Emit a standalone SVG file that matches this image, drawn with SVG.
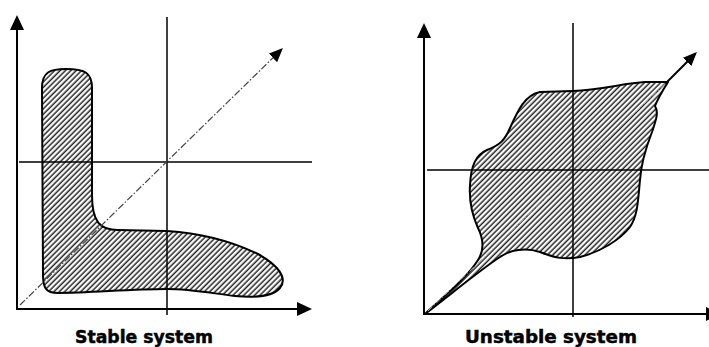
<svg xmlns="http://www.w3.org/2000/svg" width="709" height="347" viewBox="0 0 709 347">
  <style>
    .axis { stroke: #000; stroke-width: 2; fill: none; }
    .cross { stroke: #000; stroke-width: 1.5; fill: none; }
    .region { fill: url(#hatch); stroke: #000; stroke-width: 2; stroke-linejoin: round; }
    .diag { stroke: #444; stroke-width: 1.2; fill: none; stroke-dasharray: 7 2 1.5 2; }
    .diagfaint { stroke: #aaa; stroke-width: 1; fill: none; stroke-dasharray: 6 2 1.5 2; }
    .solid { stroke: #000; stroke-width: 2; fill: none; }
    .label { font-family: "DejaVu Sans", Verdana, sans-serif; font-weight: bold; font-size: 18px; fill: #000; stroke: #000; stroke-width: 0.5; text-anchor: middle; }
  </style>
  <defs>
    <pattern id="hatch" patternUnits="userSpaceOnUse" width="3.8" height="10" patternTransform="rotate(45)">
      <rect width="3.8" height="10" fill="#fff"/>
      <line x1="1.2" y1="0" x2="1.2" y2="10" stroke="#222" stroke-width="1.5"/>
    </pattern>
    <marker id="bigArrow" markerUnits="userSpaceOnUse" markerWidth="16" markerHeight="15" refX="13" refY="7" orient="auto">
      <path d="M0,0 L15,7 L0,14 Z" fill="#000"/>
    </marker>
    <marker id="smallArrow" markerUnits="userSpaceOnUse" markerWidth="15" markerHeight="13" refX="12" refY="6" orient="auto">
      <path d="M0,0 L14,6 L0,12 Z" fill="#000"/>
    </marker>
  </defs>
  <rect width="709" height="347" fill="#fff"/>

  <!-- Stable system -->
  <g id="stable-region">
    <path class="region" d="M 42,88 C 42,72 50,69 66,69 C 84,69 92,72 92,88 L 92,195 C 92,222 100,230 118,230 L 167,231 C 200,233 233,242 258,254 C 278,265 288,278 280,288 C 272,297 255,298 235,296 C 210,293 190,289 167,289 C 130,289 90,293 58,293 C 46,293 43,288 43,275 Z"/>
  </g>
  <g id="stable-connectors">
    <line class="cross" x1="167" y1="17" x2="167" y2="315"/>
    <line class="cross" x1="19" y1="162" x2="312" y2="162"/>
    <line class="diag" x1="20" y1="305" x2="281.5" y2="49.5" marker-end="url(#smallArrow)"/>
    <line class="axis" x1="17" y1="310" x2="17" y2="17" marker-end="url(#bigArrow)"/>
    <line class="axis" x1="17" y1="309" x2="310" y2="309" marker-end="url(#bigArrow)"/>
  </g>
  <g id="stable-label">
    <text class="label" x="144" y="343" textLength="138" lengthAdjust="spacingAndGlyphs">Stable system</text>
  </g>

  <!-- Unstable system -->
  <g id="unstable-region">
    <path class="region" d="M 425,314 C 442,298 467,278 478,260 C 485,249 483,238 478,228 C 472,215 469,200 470,185 C 471,165 476,155 487,150 C 500,145 505,140 510,128 C 518,110 525,95 540,92 L 573,91 C 600,90 625,83 645,82 C 657,82 663,82 668,82 C 663,90 658,98 655,106 C 659,112 656,120 652,132 C 645,150 641,165 640,180 C 638,200 638,215 630,227 C 620,240 600,252 580,257 C 565,260 555,258 540,252 C 525,247 510,250 500,257 C 480,270 450,295 425,314 Z"/>
  </g>
  <g id="unstable-connectors">
    <line class="diagfaint" x1="428" y1="311" x2="665" y2="84"/>
    <line class="cross" x1="573" y1="23" x2="573" y2="317"/>
    <line class="cross" x1="427" y1="170" x2="709" y2="170"/>
    <line class="solid" x1="667" y1="82" x2="695.5" y2="53.5" marker-end="url(#smallArrow)"/>
    <line class="axis" x1="424" y1="315" x2="424" y2="25" marker-end="url(#bigArrow)"/>
    <line class="axis" x1="424" y1="314" x2="719" y2="314" marker-end="url(#bigArrow)"/>
  </g>
  <g id="unstable-label">
    <text class="label" x="551" y="343" textLength="172" lengthAdjust="spacingAndGlyphs">Unstable system</text>
  </g>
</svg>
